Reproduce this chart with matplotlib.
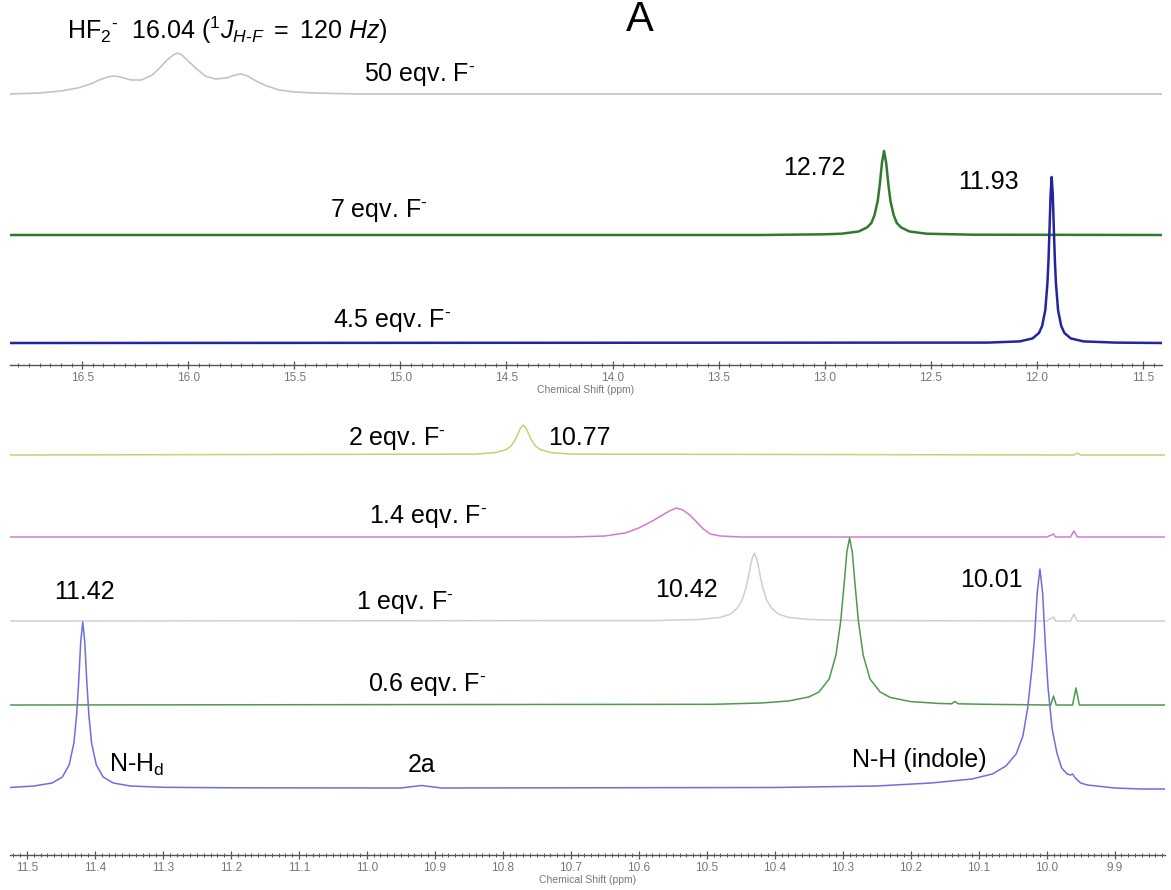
import matplotlib
matplotlib.use("Agg")
import matplotlib.pyplot as plt
from matplotlib.ticker import MultipleLocator, FormatStrFormatter

plt.rcParams['font.family'] = ['Liberation Sans', 'DejaVu Sans']
plt.rcParams['mathtext.fontset'] = 'custom'
plt.rcParams['mathtext.rm'] = 'Liberation Sans'
plt.rcParams['mathtext.it'] = 'Liberation Sans:italic'
plt.rcParams['mathtext.bf'] = 'Liberation Sans:bold'

# ---- upper panel spectra (ppm, intensity) ----
eq50_ppm = [16.84, 16.70, 16.60, 16.52, 16.46, 16.42, 16.38, 16.35, 16.32, 16.27, 16.22, 16.17,
            16.13, 16.10, 16.07, 16.05, 16.03, 16.00, 15.96, 15.92, 15.87, 15.82, 15.78, 15.75,
            15.72, 15.68, 15.63, 15.57, 15.50, 15.40, 15.20, 11.41]
eq50_int = [0, 1, 3, 6, 10, 14, 17, 18, 17, 14, 14, 19, 27, 34, 39, 41, 39, 33, 25, 18, 15, 16,
            19, 20, 18, 13, 8, 4, 2, 1, 0, 0]

eq7_ppm = [16.84, 13.30, 13.00, 12.92, 12.84, 12.80, 12.78, 12.765, 12.75, 12.74, 12.73, 12.72,
           12.71, 12.70, 12.69, 12.675, 12.66, 12.64, 12.60, 12.52, 12.30, 11.41]
eq7_int = [0, 0, 0.7, 1.3, 3.5, 7.6, 12, 20, 34, 51, 72, 84, 72, 51, 34, 20, 12, 7.6, 3.5, 1.3,
           0.3, 0]

eq45_ppm = [16.84, 12.23, 12.08, 12.02, 11.99, 11.975, 11.96, 11.95, 11.945, 11.94, 11.935,
            11.93, 11.925, 11.92, 11.915, 11.91, 11.90, 11.885, 11.87, 11.84, 11.78, 11.63, 11.41]
eq45_int = [0, 0.4, 1.6, 4.6, 10, 17, 33, 60, 83, 115, 149, 166, 149, 115, 83, 60, 33, 17, 10,
            4.6, 1.6, 0.4, 0]

# ---- lower panel spectra ----
eq2_ppm = [11.525, 10.84, 10.81, 10.795, 10.788, 10.782, 10.778, 10.774, 10.77, 10.766, 10.762,
           10.758, 10.752, 10.745, 10.73, 10.70, 9.96, 9.955, 9.95, 9.826]
eq2_int = [0, 0.9, 2.5, 5.4, 9, 15, 21, 27, 30, 27, 21, 15, 9, 5.4, 2.5, 0.9, 0, 2, 0, 0]

eq14_ppm = [11.525, 10.70, 10.65, 10.62, 10.60, 10.58, 10.565, 10.555, 10.545, 10.535, 10.525,
            10.515, 10.505, 10.495, 10.48, 10.45, 10.0, 9.993, 9.99, 9.987, 9.965, 9.96, 9.955,
            9.826]
eq14_int = [0, 0, 1, 4, 9, 16, 22, 26, 29, 27, 22, 15, 8, 3, 1, 0, 0, 2, 3, 0, 0, 6, 0, 0]

eq1_ppm = [11.525, 10.58, 10.51, 10.48, 10.465, 10.455, 10.448, 10.442, 10.438, 10.434, 10.43,
           10.426, 10.422, 10.418, 10.412, 10.405, 10.395, 10.38, 10.35, 10.28, 10.0, 9.993,
           9.99, 9.987, 9.965, 9.96, 9.955, 9.826]
eq1_int = [0, 0.4, 1.5, 3.6, 7, 13, 21, 34, 47, 61, 68, 61, 47, 34, 21, 13, 7, 3.6, 1.5, 0.4,
           0, 3, 4, 0, 0, 7, 0, 0]

eq06_ppm = [11.525, 10.49, 10.42, 10.38, 10.35, 10.335, 10.32, 10.31, 10.303, 10.298, 10.294,
            10.29, 10.286, 10.282, 10.277, 10.27, 10.26, 10.245, 10.23, 10.20, 10.16, 10.14,
            10.135, 10.13, 10.09, 10.0, 9.994, 9.99, 9.986, 9.962, 9.957, 9.952, 9.826]
eq06_int = [0, 0.7, 2, 4, 8, 13, 26, 50, 84, 121, 153, 167, 153, 121, 84, 50, 26, 13, 7.5, 3.4,
            1.6, 1.2, 3.5, 1.2, 0.7, 0, 0, 9, 0, 0, 17, 0, 0]

eq0_ppm = [11.525, 11.49, 11.463, 11.448, 11.438, 11.431, 11.427, 11.424, 11.421, 11.418,
           11.415, 11.412, 11.409, 11.405, 11.398, 11.388, 11.373, 11.348, 11.30, 11.20, 10.95,
           10.92, 10.89, 10.40, 10.25, 10.17, 10.11, 10.08, 10.06, 10.045, 10.035, 10.028,
           10.022, 10.018, 10.014, 10.01, 10.006, 10.002, 9.998, 9.992, 9.985, 9.978, 9.97,
           9.965, 9.962, 9.958, 9.95, 9.94, 9.90, 9.86, 9.826]
eq0_int = [0.5, 2, 5, 11, 23, 45, 73, 106, 146, 166, 146, 106, 73, 45, 23, 11, 5, 2, 0.7, 0.2,
           0, 2.5, 0, 0.5, 2, 5, 9, 14, 22, 34, 52, 80, 118, 150, 195, 219, 195, 143, 100, 59,
           35, 20, 14, 13, 14, 10, 5, 3, 0, -1, -1]

top_traces = [(eq50_ppm, eq50_int), (eq7_ppm, eq7_int), (eq45_ppm, eq45_int)]
top_colors = ['#c4c4c4', '#2f7a2f', '#2424a0']
top_widths = [1.2, 1.8, 1.8]
top_offsets = [271, 130, 22]

bot_traces = [(eq2_ppm, eq2_int), (eq14_ppm, eq14_int), (eq1_ppm, eq1_int),
              (eq06_ppm, eq06_int), (eq0_ppm, eq0_int)]
bot_colors = ['#cccc7a', '#d27ad2', '#cfcfcf', '#4f9a4f', '#6e6ee0']
bot_offsets = [400, 318, 234, 150, 67]

W, H = 1171, 890
fig = plt.figure(figsize=(W / 100, H / 100), dpi=100)

ax_top = fig.add_axes([10 / W, 1 - 365 / H, 1152 / W, 365 / H])
ax_bot = fig.add_axes([10 / W, 1 - 855 / H, 1155 / W, 455 / H])


def style_axis(ax, major, minor):
    ax.set_facecolor('none')
    for s in ['left', 'right', 'top']:
        ax.spines[s].set_visible(False)
    ax.spines['bottom'].set_color('#555555')
    ax.spines['bottom'].set_linewidth(1.0)
    ax.set_yticks([])
    ax.xaxis.set_major_locator(MultipleLocator(major))
    ax.xaxis.set_minor_locator(MultipleLocator(minor))
    ax.xaxis.set_major_formatter(FormatStrFormatter('%.1f'))
    ax.tick_params(axis='x', which='major', direction='inout', length=6, width=0.9,
                   color='#555555', labelsize=8.5, labelcolor='#777777', pad=2)
    ax.tick_params(axis='x', which='minor', direction='inout', length=3, width=0.7,
                   color='#555555')
    for lab in ax.get_xticklabels():
        lab.set_family(['Liberation Sans Narrow', 'Liberation Sans'])
    ax.set_xlabel('Chemical Shift (ppm)', fontsize=7.5, color='#777777', labelpad=1,
                  family=['Liberation Sans Narrow', 'Liberation Sans'])


for (ppm, inten), c, lw, off in zip(top_traces, top_colors, top_widths, top_offsets):
    ax_top.plot(ppm, [v + off for v in inten], color=c, linewidth=lw)
ax_top.set_xlim(16.84, 11.41)
ax_top.set_ylim(0, 365)
style_axis(ax_top, 0.5, 0.05)

for (ppm, inten), c, off in zip(bot_traces, bot_colors, bot_offsets):
    ax_bot.plot(ppm, [v + off for v in inten], color=c, linewidth=1.1)
ax_bot.set_xlim(11.525, 9.826)
ax_bot.set_ylim(0, 455)
style_axis(ax_bot, 0.1, 0.01)

fs = 18
fm = r"F$^{\text{-}}$"   # fluoride with small superscript dash
# upper panel labels
ax_top.text(16.57, 335,
            r"HF$_2$$^{\text{-}}$  16.04 ($^{1}J_{H\text{-}F}$ $\mathit{=\ 120\ Hz}$)",
            fontsize=fs, ha='left', va='center')
ax_top.text(13.87, 345, 'A', fontsize=30, ha='center', va='center')
ax_top.text(14.91, 291, "50 eqv. " + fm, fontsize=fs, ha='center', va='center')
ax_top.text(13.05, 197, '12.72', fontsize=fs, ha='center', va='center')
ax_top.text(12.23, 183, '11.93', fontsize=fs, ha='center', va='center')
ax_top.text(15.10, 155, "7 eqv. " + fm, fontsize=fs, ha='center', va='center')
ax_top.text(15.04, 45, "4.5 eqv. " + fm, fontsize=fs, ha='center', va='center')

# lower panel labels
ax_bot.text(10.956, 417, "2 eqv. " + fm, fontsize=fs, ha='center', va='center')
ax_bot.text(10.687, 417, '10.77', fontsize=fs, ha='center', va='center')
ax_bot.text(10.91, 338, "1.4 eqv. " + fm, fontsize=fs, ha='center', va='center')
ax_bot.text(11.415, 263, '11.42', fontsize=fs, ha='center', va='center')
ax_bot.text(10.944, 252, "1 eqv. " + fm, fontsize=fs, ha='center', va='center')
ax_bot.text(10.912, 170, "0.6 eqv. " + fm, fontsize=fs, ha='center', va='center')
ax_bot.text(10.53, 265, '10.42', fontsize=fs, ha='center', va='center')
ax_bot.text(10.082, 275, '10.01', fontsize=fs, ha='center', va='center')
ax_bot.text(11.379, 90, r"N-H$_\mathrm{d}$", fontsize=fs, ha='left', va='center')
ax_bot.text(10.92, 90, '2a', fontsize=fs, ha='center', va='center')
ax_bot.text(10.187, 95, 'N-H (indole)', fontsize=fs, ha='center', va='center')

fig.savefig('out.png', dpi=100)
